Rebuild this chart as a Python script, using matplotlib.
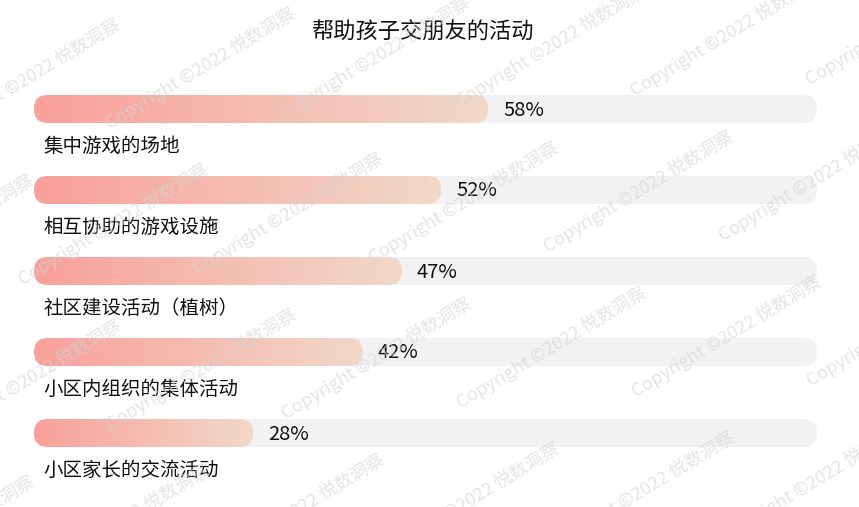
import numpy as np
import matplotlib
matplotlib.use("Agg")
import matplotlib.pyplot as plt
from matplotlib.patches import FancyBboxPatch
from matplotlib.colors import LinearSegmentedColormap

plt.rcParams['font.family'] = ['Noto Sans CJK SC', 'DejaVu Sans']

title = "帮助孩子交朋友的活动"
categories = ["集中游戏的场地", "相互协助的游戏设施", "社区建设活动（植树）",
              "小区内组织的集体活动", "小区家长的交流活动"]
values = [58, 52, 47, 42, 28]
value_labels = ["58%", "52%", "47%", "42%", "28%"]
watermark = "Copyright ©2022 悦数洞察"

W, H = 859, 507
fig = plt.figure(figsize=(W / 100, H / 100), dpi=100)
fig.patch.set_facecolor("white")

# axes: track spans px 34..817, slots from px 68.5 to 473.5
left, right = 34 / W, 817 / W
top, bottom = 1 - 68.5 / H, 1 - 473.5 / H
ax = fig.add_axes([left, bottom, right - left, top - bottom])
ax.set_xlim(0, 100)
ax.set_ylim(len(categories) - 0.5, -0.5)
ax.axis("off")

px_per_x = (817 - 34) / 100.0
px_per_y = (473.5 - 68.5) / len(categories)
bar_h = 28 / px_per_y
r_x = 14 / px_per_x
aspect = (1 / px_per_y) / (1 / px_per_x)

cmap = LinearSegmentedColormap.from_list("g", ["#F9A09A", "#F1D9C8"])
grad = np.linspace(0, 1, 256).reshape(1, -1)

for i, (cat, v, lab) in enumerate(zip(categories, values, value_labels)):
    track = FancyBboxPatch((0, i - bar_h / 2), 100, bar_h,
                           boxstyle=f"round,pad=0,rounding_size={r_x}",
                           mutation_aspect=aspect, facecolor="#F2F2F2",
                           edgecolor="none", zorder=1)
    ax.add_patch(track)
    bar = FancyBboxPatch((0, i - bar_h / 2), v, bar_h,
                         boxstyle=f"round,pad=0,rounding_size={r_x}",
                         mutation_aspect=aspect, facecolor="none",
                         edgecolor="none", zorder=2)
    ax.add_patch(bar)
    im = ax.imshow(grad, cmap=cmap, aspect="auto",
                   extent=(0, v, i + bar_h / 2, i - bar_h / 2), zorder=2,
                   interpolation="bilinear")
    im.set_clip_path(bar)
    ax.annotate(lab, xy=(v, i), xytext=(15, -1), textcoords="offset pixels",
                ha="left", va="center", fontsize=14.5, color="#111111", zorder=5)
    ax.annotate(cat, xy=(0, i), xytext=(9, -37), textcoords="offset pixels",
                ha="left", va="center", fontsize=14, color="#111111", zorder=5)

ax.set_xlim(0, 100)
ax.set_ylim(len(categories) - 0.5, -0.5)

fig.text(423 / W, 1 - 32 / H, title, ha="center", va="center",
         fontsize=16, color="#111111")

# watermark lattice
for n in range(-3, 5):
    for m in range(-3, 7):
        x = 110 + 175 * m + 88 * n
        y = 130 - 11 * m + 145 * n
        if x < -260 or x > W + 10 or y < -10 or y > H + 140:
            continue
        fig.text(x / W, 1 - y / H, watermark, rotation=31,
                 rotation_mode="anchor", ha="left", va="baseline",
                 fontsize=13, color="#d4d4d4", alpha=0.6, zorder=10)

fig.savefig("out.png", dpi=100)
